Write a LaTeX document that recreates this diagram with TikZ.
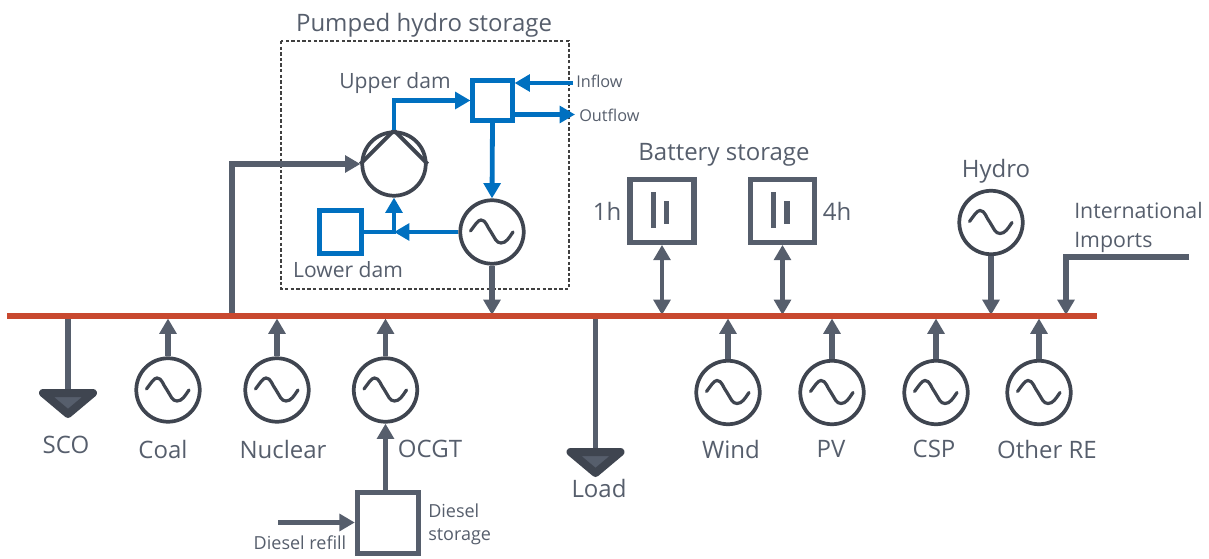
\documentclass[tikz,border=0pt]{standalone}
\usepackage{fontspec}
\setmainfont{Open Sans}
\usetikzlibrary{arrows.meta}
\definecolor{slate}{HTML}{565E6C}
\definecolor{ringdark}{HTML}{3F4550}
\definecolor{waterblue}{HTML}{0070C0}
\definecolor{busred}{HTML}{C8482F}
\tikzset{
	lbl/.style={text=slate,inner sep=0pt,font=\fontsize{18}{22}\selectfont},
	lbldam/.style={text=slate,inner sep=0pt,font=\fontsize{15.8}{19}\selectfont},
	lblmid/.style={text=slate,inner sep=0pt,font=\fontsize{16}{19}\selectfont},
	lblsmall/.style={text=slate,inner sep=0pt,font=\fontsize{13.5}{16}\selectfont},
	lblflow/.style={text=slate,inner sep=0pt,font=\fontsize{12.2}{15}\selectfont},
	feed/.style={draw=slate,line width=3.8pt,-{Triangle[width=12.5pt,length=11.5pt]}},
	feedboth/.style={draw=slate,line width=3.4pt,{Triangle[width=12.5pt,length=11.5pt]}-{Triangle[width=12.5pt,length=11.5pt]}},
	water/.style={draw=waterblue,line width=3.6pt,-{Triangle[width=12.5pt,length=11.5pt]}},
	dam/.style={draw=waterblue,line width=3.6pt,minimum size=29.5pt,inner sep=0pt},
	sink/.style={draw=ringdark,fill=slate,line width=6pt,line join=round},
	batt/.style={draw=slate,line width=3.8pt,minimum width=48pt,minimum height=47pt,inner sep=0pt},
	ring/.style={circle,draw=ringdark,line width=2.8pt,minimum size=47.6pt,inner sep=0pt},
	gen/.style={ring,path picture={
		\draw[shift={(path picture bounding box.center)},ringdark,line width=2.4pt,line cap=round]
			(-21.5,-1) .. controls (-17,-7) and (-14,-12) .. (-11,-12)
			.. controls (-6,-12) and (-5,-5) .. (-1,0)
			.. controls (3,6) and (4,11) .. (9,11)
			.. controls (14,11) and (17,6) .. (21,0);
	}}
}
\begin{document}
\begin{tikzpicture}[x=0.75pt,y=-0.75pt]
	\useasboundingbox (0,0) rectangle (1209,559);
	\coordinate (busL) at (7,316);
	\coordinate (busR) at (1097,316);
	\coordinate (busN) at (7,315);
	\coordinate (busS) at (7,318.5);
	\coordinate (tapPump) at (232,316);
	\coordinate (inflowS) at (573,83);
	\coordinate (outflowE) at (575,114.5);
	\coordinate (junction) at (394,232);
	\coordinate (refillS) at (278,522.5);
	\coordinate (importS) at (1189,257);
	\coordinate (importC) at (1066,257);
	\coordinate (scoT) at (68,393);
	\coordinate (loadT) at (595.5,452);
	\draw[black!75,line width=0.9pt,dash pattern=on 2.6pt off 1.6pt] (281,41) rectangle (569,289);
	% machines
	\node[ring] (pump) at (394,164) {};
	\node[gen] (hydropump) at (492,232) {};
	\node[dam] (upper) at (492.5,100.5) {};
	\node[dam,minimum size=32pt] (lower) at (340.5,232) {};
	\node[gen] (coal) at (168,390) {};
	\node[gen] (nuclear) at (277,390) {};
	\node[gen] (ocgt) at (385.5,390) {};
	\node[gen] (wind) at (728,392.5) {};
	\node[gen] (pv) at (832,392.5) {};
	\node[gen] (csp) at (936,392.5) {};
	\node[gen] (otherre) at (1039,392.5) {};
	\node[gen] (hydro) at (991,222.5) {};
	\node[batt] (batta) at (662,211) {};
	\node[batt] (battb) at (782.5,211) {};
	\node[batt,minimum width=46pt,minimum height=46pt] (diesel) at (388,523) {};
	\draw[ringdark,line width=3pt] (pump.north) -- (pump.west);
	\draw[ringdark,line width=3pt] (pump.north) -- (pump.east);
	% battery plates
	\fill[slate] (651,192) rectangle (656,228);
	\fill[slate] (664,201) rectangle (669,224);
	\fill[slate] (771,192) rectangle (776,228);
	\fill[slate] (784,201) rectangle (790,224);
	% water side
	\draw[water] (pump.north) |- (upper.west);
	\draw[water] (inflowS) -- (inflowS -| upper.east);
	\draw[water] (outflowE -| upper.east) -- (outflowE);
	\draw[water] (upper.south) -- (hydropump.north);
	\draw[water] (hydropump.west) -- (junction);
	\draw[water] (lower.east) -- (junction) -- (pump.south);
	% electrical side
	\draw[feed] (tapPump) |- (pump.west);
	\draw[feed] (hydropump.south) -- (hydropump.south |- busN);
	\draw[feed] (coal.north) -- (coal.north |- busS);
	\draw[feed] (nuclear.north) -- (nuclear.north |- busS);
	\draw[feed] (ocgt.north) -- (ocgt.north |- busS);
	\draw[feed] (wind.north) -- (wind.north |- busS);
	\draw[feed] (pv.north) -- (pv.north |- busS);
	\draw[feed] (csp.north) -- (csp.north |- busS);
	\draw[feed] (otherre.north) -- (otherre.north |- busS);
	\draw[feed] (hydro.south) -- (hydro.south |- busN);
	\draw[feed] (importS) -- (importC) -- (importC |- busN);
	\draw[feedboth] (batta.south) -- (batta.south |- busN);
	\draw[feedboth] (battb.south) -- (battb.south |- busN);
	\draw[feed] (diesel.north -| ocgt.south) -- (ocgt.south);
	\draw[feed] (refillS) -- (refillS -| diesel.west);
	\draw[draw=slate,line width=3.8pt] (busL -| scoT) -- (scoT);
	\draw[draw=slate,line width=3.8pt] (busL -| loadT) -- (loadT);
	\draw[sink] (scoT) ++(-25,0) -- ++(50,0) -- ++(-25,21) -- cycle;
	\draw[sink] (loadT) ++(-25,0) -- ++(50,0) -- ++(-25,21) -- cycle;
	\draw[busred,line width=4.5pt] (busL) -- (busR);
	% labels
	\node[lbl] (phslbl) at (424,25) {Pumped hydro storage};
	\node[lbldam] (upperlbl) at (395,83) {Upper dam};
	\node[lbldam] (lowerlbl) at (348,270) {Lower dam};
	\node[lblflow,anchor=west] (inflowlbl) at (576,81) {Inflow};
	\node[lblflow,anchor=west] (outflowlbl) at (579,115) {Outflow};
	\node[lbl] (battlbl) at (724,155) {Battery storage};
	\node[lbl] (hlbla) at (607,211) {1h};
	\node[lbl] (hlblb) at (837,211) {4h};
	\node[lbl] (hydrolbl) at (996,171) {Hydro};
	\node[lblmid,anchor=west] (intllbl) at (1074,211) {International};
	\node[lblmid,anchor=west] (implbl) at (1074,242) {Imports};
	\node[lbl] (scolbl) at (66,445) {SCO};
	\node[lbl] (coallbl) at (163,449) {Coal};
	\node[lbl] (nuclearlbl) at (283,449) {Nuclear};
	\node[lbl] (ocgtlbl) at (430,449) {OCGT};
	\node[lbl] (loadlbl) at (599,488) {Load};
	\node[lbl] (windlbl) at (731,449) {Wind};
	\node[lbl] (pvlbl) at (831,449) {PV};
	\node[lbl] (csplbl) at (934,449) {CSP};
	\node[lbl] (otherlbl) at (1047,449) {Other RE};
	\node[lblsmall,anchor=west] (diesela) at (428,511) {Diesel};
	\node[lblsmall,anchor=west] (dieselb) at (428,537) {storage};
	\node[lblsmall] (refilllbl) at (300,543) {Diesel refill};
\end{tikzpicture}
\end{document}
